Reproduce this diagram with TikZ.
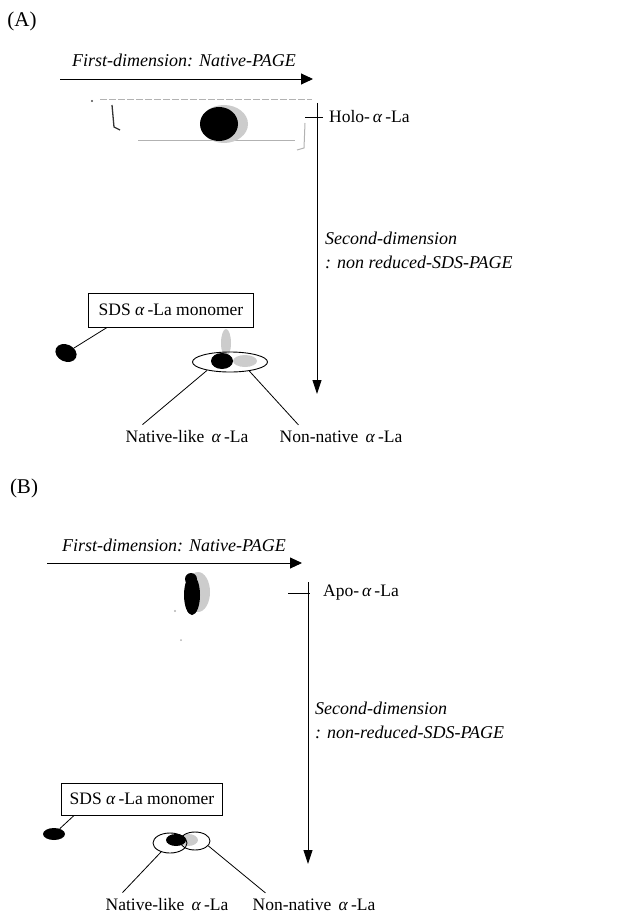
\documentclass[tikz,border=0pt]{standalone}
\usepackage{fontspec}
\setmainfont{Liberation Serif}
\usetikzlibrary{arrows.meta,shapes.geometric}
\begin{document}
\begin{tikzpicture}[x=1pt,y=-1pt,
  lbl/.style={font=\fontsize{17.5}{20}\selectfont, inner sep=0pt},
  ilbl/.style={font=\fontsize{18}{21}\selectfont\itshape, inner sep=0pt},
  haxis/.style={line width=0.9pt, -{Triangle[length=12pt,width=11pt]}},
  vaxis/.style={line width=0.9pt, -{Triangle[length=14pt,width=9pt]}},
  lead/.style={line width=0.8pt},
  tick/.style={line width=0.8pt},
  spot/.style={ellipse, fill=black, draw=none, inner sep=0pt},
  mbox/.style={draw, line width=0.9pt, font=\fontsize{17.5}{20}\selectfont, inner sep=0pt},
  ring/.style={draw, ellipse, line width=0.9pt, inner sep=0pt},
  faint/.style={gray!60, line width=0.6pt}
]
\useasboundingbox (0,0) rectangle (644,915);

% ================= Panel A =================
\node[font=\fontsize{21}{24}\selectfont, inner sep=0pt] (labA) at (22,21) {(A)};
\node[ilbl] (firstA) at (184,60) {First-dimension: Native-PAGE};
\coordinate (hA0) at (60,79);
\coordinate (hA1) at (313,79);
\draw[haxis] (hA0) -- (hA1);

% gel strip traces
\draw[faint, dash pattern=on 7pt off 2pt] (100,99) -- (312,99);
\draw[faint] (138,140) -- (295,140);
\draw[line width=1.3pt, gray!40!black] (112,105) -- (114,127) -- (120,130);
\fill[gray!60!black] (92,101) circle (1.2);
\draw[faint, line width=1pt] (305,123) -- (304,148) -- (297,150);
% holo spot
\fill[gray!40] (224,124) ellipse (24 and 19);
\fill[black] (219,124) ellipse (19 and 17);

\coordinate (vA0) at (317,103);
\coordinate (vA1) at (317,394);
\draw[vaxis] (vA0) -- (vA1);
\coordinate (tA0) at (305,117);
\coordinate (tA1) at (323,117);
\draw[tick] (tA0) -- (tA1);
\node[lbl, anchor=west] (holo) at (329,117) {Holo-\,\textit{α}\,-La};
\node[ilbl, anchor=west] (secA1) at (325,238) {Second-dimension};
\node[ilbl, anchor=west] (secA2) at (325,262) {: non reduced-SDS-PAGE};

\node[mbox, minimum width=165pt, minimum height=34pt] (sdsA) at (171,310) {SDS \textit{α}\,-La monomer};
\node[spot, minimum width=22pt, minimum height=17pt, rotate=-25] (monoA) at (66,353) {};
\draw[lead] ([xshift=19pt]sdsA.south west) -- (monoA);

% native / non-native spots A
\fill[gray!40] (226,343) ellipse (5 and 14);
\fill[gray!40] (245,361) ellipse (12 and 6);
\fill[black] (222,361) ellipse (11 and 8);
\node[ring, minimum width=75pt, minimum height=20pt] (ellA) at (230,362) {};

\node[lbl] (natA) at (187,437) {Native-like \,\textit{α}\,-La};
\node[lbl] (nonA) at (341,437) {Non-native \,\textit{α}\,-La};
\draw[lead] (ellA.200) -- ([xshift=17pt,yshift=6pt]natA.north west);
\draw[lead] (ellA.335) -- ([xshift=19pt,yshift=6pt]nonA.north west);

% ================= Panel B =================
\node[font=\fontsize{21}{24}\selectfont, inner sep=0pt] (labB) at (24,488) {(B)};
\node[ilbl] (firstB) at (174,545) {First-dimension: Native-PAGE};
\coordinate (hB0) at (47,563);
\coordinate (hB1) at (302,563);
\draw[haxis] (hB0) -- (hB1);

% apo spot
\fill[gray!40] (198,592) ellipse (12 and 20);
\fill[black] (192,595) ellipse (8 and 20);
\fill[black] (191,579) ellipse (6 and 6);
\fill[gray!60] (175,611) circle (1.2);
\fill[gray!60] (181,640) circle (1);

\coordinate (vB0) at (308,582);
\coordinate (vB1) at (308,864);
\draw[vaxis] (vB0) -- (vB1);
\coordinate (tB0) at (288,593);
\coordinate (tB1) at (310,593);
\draw[tick] (tB0) -- (tB1);
\node[lbl, anchor=west] (apo) at (323,593) {Apo-\,\textit{α}\,-La};
\node[ilbl, anchor=west] (secB1) at (315,708) {Second-dimension};
\node[ilbl, anchor=west] (secB2) at (315,732) {: non-reduced-SDS-PAGE};

\node[mbox, minimum width=161pt, minimum height=32pt] (sdsB) at (142,799) {SDS \textit{α}\,-La monomer};
\node[spot, minimum width=22pt, minimum height=12pt] (monoB) at (54,834) {};
\draw[lead] ([xshift=13pt]sdsB.south west) -- (monoB);

% native / non-native spots B
\fill[gray!40] (188,840) ellipse (10 and 6);
\fill[black] (176,840) ellipse (10 and 6);
\node[ring, minimum width=34pt, minimum height=20pt] (ellB1) at (170,843) {};
\node[ring, minimum width=30pt, minimum height=18pt] (ellB2) at (195,841) {};

\node[lbl] (natB) at (167,905) {Native-like \,\textit{α}\,-La};
\node[lbl] (nonB) at (314,905) {Non-native \,\textit{α}\,-La};
\draw[lead] (ellB1.225) -- ([xshift=17pt,yshift=6pt]natB.north west);
\draw[lead] (ellB2.340) -- ([xshift=13pt,yshift=6pt]nonB.north west);
\end{tikzpicture}
\end{document}
